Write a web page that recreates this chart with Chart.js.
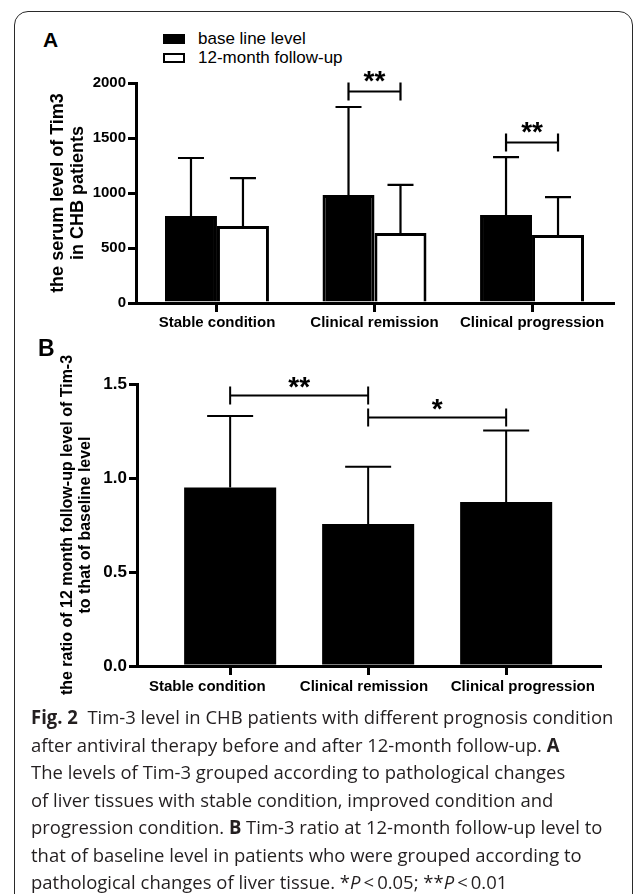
<!DOCTYPE html>
<html>
<head>
<meta charset="utf-8">
<script src="https://cdn.jsdelivr.net/npm/chart.js@4.4.0/dist/chart.umd.min.js"></script>
<style>
  html, body { margin: 0; padding: 0; background: #fff; }
  body { width: 633px; height: 894px; position: relative; overflow: hidden;
         font-family: "Liberation Sans", Arial, sans-serif; color: #000; }
  #frame { position: absolute; left: 14px; top: 11px; width: 619px; height: 920px;
           box-sizing: border-box; border: 1px solid #2a2a2a; border-radius: 14px; }
  canvas { position: absolute; left: 0; }
  .panel { position: absolute; font-weight: bold; line-height: 1; }
  .leg { position: absolute; left: 163px; height: 20px; display: flex; align-items: center;
         font-size: 17px; line-height: 20px; }
  .leg i { display: inline-block; width: 22px; height: 10px; box-sizing: border-box;
           margin-right: 13px; }
  #caption { position: absolute; left: 31px; top: 704px; font-family: "Open Sans", sans-serif;
             font-size: 19px; line-height: 27.5px; color: #231f20; white-space: nowrap;
             transform-origin: 0 0; }
  #caption b { font-weight: bold; }
</style>
</head>
<body>
<div id="frame"></div>

<div class="panel" style="left:43px; top:29px; font-size:21px;">A</div>
<div class="leg" style="top:29px;"><i style="background:#000;"></i>base line level</div>
<div class="leg" style="top:48px;"><i style="background:#fff; border:2.5px solid #000;"></i>12-month follow-up</div>
<canvas id="chartA" width="633" height="345" style="top:0;"></canvas>

<div class="panel" style="left:38px; top:337px; font-size:23px;">B</div>
<canvas id="chartB" width="633" height="370" style="top:340px;"></canvas>

<div id="caption">
  <div id="cap1"><b>Fig. 2</b>&nbsp; Tim-3 level in CHB patients with different prognosis condition</div>
  <div>after antiviral therapy before and after 12-month follow-up. <b>A</b></div>
  <div>The levels of Tim-3 grouped according to pathological changes</div>
  <div>of liver tissues with stable condition, improved condition and</div>
  <div>progression condition. <b>B</b> Tim-3 ratio at 12-month follow-up level to</div>
  <div>that of baseline level in patients who were grouped according to</div>
  <div>pathological changes of liver tissue. *<i>P</i>&thinsp;&lt;&thinsp;0.05; **<i>P</i>&thinsp;&lt;&thinsp;0.01</div>
</div>

<script>
// categories
var groups = ['Stable condition', 'Clinical remission', 'Clinical progression'];
// panel B labels sit a little off their ticks in the original, padded with spaces to match
var groupsB = ['Stable condition           ', 'Clinical remission  ', '        Clinical progression'];

// panel A: serum Tim3 (mean, SD)
var baseMean = [791, 982, 800];
var baseSD = [527, 800, 527];
var followMean = [700, 636, 618];
var followSD = [436, 437, 344];
var ticksA = [0, 500, 1000, 1500, 2000];

// panel B: ratio follow-up / baseline (mean, SD)
var ratioMean = [0.95, 0.755, 0.873];
var ratioSD = [0.38, 0.305, 0.38];
var ticksB = [0, 0.5, 1.0, 1.5];

// significance brackets: [dataset, index] -> [dataset, index], height in data units
var sigA = [
  { from: [0, 1], to: [1, 1], y: 1927, text: '**' },
  { from: [0, 2], to: [1, 2], y: 1464, text: '**' }
];
var sigB = [
  { from: [0, 0], to: [0, 1], y: 1.44, text: '**' },
  { from: [0, 1], to: [0, 2], y: 1.327, text: '*' }
];

var axisFont = '"Liberation Sans", Arial, sans-serif';

function points(arr) {
  return arr.map(function(v, i) { return { x: i, y: v }; });
}

// mean + SD whiskers (upper only, like the original)
var errorBars = {
  id: 'errorBars',
  afterDatasetsDraw: function(chart, args, opts) {
    var ctx = chart.ctx;
    var y = chart.scales.y;
    ctx.save();
    ctx.strokeStyle = '#000';
    ctx.lineWidth = opts.lineWidth;
    chart.data.datasets.forEach(function(ds, i) {
      var meta = chart.getDatasetMeta(i);
      meta.data.forEach(function(bar, j) {
        var top = y.getPixelForValue(ds.data[j].y + ds.sd[j]);
        ctx.beginPath();
        ctx.moveTo(bar.x, bar.y);
        ctx.lineTo(bar.x, top);
        ctx.moveTo(bar.x - opts.cap, top);
        ctx.lineTo(bar.x + opts.cap, top);
        ctx.stroke();
      });
    });
    ctx.restore();
  }
};

var brackets = {
  id: 'brackets',
  afterDatasetsDraw: function(chart, args, opts) {
    var ctx = chart.ctx;
    var y = chart.scales.y;
    ctx.save();
    ctx.strokeStyle = '#000';
    ctx.fillStyle = '#000';
    ctx.lineWidth = opts.lineWidth;
    ctx.font = 'bold ' + opts.fontSize + 'px ' + axisFont;
    ctx.textAlign = 'center';
    ctx.textBaseline = 'alphabetic';
    opts.items.forEach(function(s) {
      var x1 = chart.getDatasetMeta(s.from[0]).data[s.from[1]].x;
      var x2 = chart.getDatasetMeta(s.to[0]).data[s.to[1]].x;
      var py = Math.round(y.getPixelForValue(s.y)) + 0.5;
      ctx.beginPath();
      ctx.moveTo(x1, py - opts.tick);
      ctx.lineTo(x1, py + opts.tick);
      ctx.moveTo(x2, py - opts.tick);
      ctx.lineTo(x2, py + opts.tick);
      ctx.moveTo(x1, py);
      ctx.lineTo(x2, py);
      ctx.stroke();
      // asterisk centre sits ~0.57em above the baseline
      ctx.fillText(s.text, (x1 + x2) / 2, py - opts.textGap + 0.57 * opts.fontSize);
    });
    ctx.restore();
  }
};

function xScale(labels, min, max, height, pad) {
  return {
    type: 'linear',
    min: min,
    max: max,
    offset: false,
    afterBuildTicks: function(s) {
      s.ticks = labels.map(function(g, i) { return { value: i }; });
    },
    afterFit: function(s) { s.height = height; },
    ticks: {
      stepSize: 1,
      autoSkip: false,
      maxRotation: 0,
      padding: pad,
      color: '#000',
      font: { family: axisFont, size: 15, weight: 'bold', lineHeight: 1.2 },
      callback: function(v) { return labels[v] || ''; }
    },
    grid: { offset: false, drawOnChartArea: false, color: '#000', lineWidth: 3, tickLength: 9 },
    border: { display: true, color: '#000', width: 3 }
  };
}

function yScale(max, step, width, title, titleSize, titleLine, titlePad, tickSize, fmt, tickVals) {
  return {
    min: 0,
    max: max,
    afterBuildTicks: function(s) {
      s.ticks = tickVals.map(function(v) { return { value: v }; });
    },
    afterFit: function(s) { s.width = width; },
    ticks: {
      stepSize: step,
      padding: 2,
      color: '#000',
      font: { family: axisFont, size: tickSize, weight: 'bold' },
      callback: fmt
    },
    grid: { drawOnChartArea: false, color: '#000', lineWidth: 3, tickLength: 8 },
    border: { display: true, color: '#000', width: 3 },
    title: {
      display: true,
      text: title,
      color: '#000',
      padding: { top: titlePad, bottom: 0 },
      font: { family: axisFont, size: titleSize, weight: 'bold', lineHeight: titleLine }
    }
  };
}

new Chart(document.getElementById('chartA').getContext('2d'), {
  type: 'bar',
  data: {
    datasets: [
      {
        label: 'base line level',
        data: points(baseMean),
        sd: baseSD,
        backgroundColor: '#000',
        borderColor: '#000',
        borderWidth: 3
      },
      {
        label: '12-month follow-up',
        data: points(followMean),
        sd: followSD,
        backgroundColor: '#fff',
        borderColor: '#000',
        borderWidth: 3
      }
    ]
  },
  options: {
    responsive: false,
    animation: false,
    categoryPercentage: 0.66,
    barPercentage: 1,
    layout: { padding: { top: 83, right: 20, left: 0, bottom: 0 } },
    scales: {
      x: xScale(groups, -0.514, 2.514, 42, 2),
      y: yScale(2000, 500, 136, ['the serum level of Tim3', 'in CHB patients'], 18, 20 / 18, 48, 15,
        function(v) { return String(v); }, ticksA)
    },
    plugins: {
      legend: { display: false },
      tooltip: { enabled: false },
      errorBars: { lineWidth: 2.2, cap: 13 },
      brackets: { items: sigA, lineWidth: 2.2, tick: 9, fontSize: 28, textGap: 17 }
    }
  },
  plugins: [errorBars, brackets]
});

new Chart(document.getElementById('chartB').getContext('2d'), {
  type: 'bar',
  data: {
    datasets: [
      {
        label: 'ratio',
        data: points(ratioMean),
        sd: ratioSD,
        backgroundColor: '#000',
        borderWidth: 0
      }
    ]
  },
  options: {
    responsive: false,
    animation: false,
    categoryPercentage: 0.667,
    barPercentage: 1,
    layout: { padding: { top: 44, right: 33, left: 0, bottom: 0 } },
    scales: {
      x: xScale(groupsB, -0.675, 2.68, 44, 3),
      y: yScale(1.5, 0.5, 137, ['the ratio of 12 month follow-up level of Tim-3', 'to that of baseline level'],
        16, 18 / 16, 59, 17, function(v) { return v.toFixed(1); }, ticksB)
    },
    plugins: {
      legend: { display: false },
      tooltip: { enabled: false },
      errorBars: { lineWidth: 2, cap: 23 },
      brackets: { items: sigB, lineWidth: 2, tick: 9, fontSize: 28, textGap: 15 }
    }
  },
  plugins: [errorBars, brackets]
});

// squeeze the caption so its first line spans the same width as the original
function fitCaption() {
  var cap = document.getElementById('caption');
  var w = document.getElementById('cap1').scrollWidth;
  cap.style.transform = 'scaleX(' + (582 / w) + ')';
}
fitCaption();
if (document.fonts && document.fonts.ready) document.fonts.ready.then(fitCaption);
</script>
</body>
</html>
